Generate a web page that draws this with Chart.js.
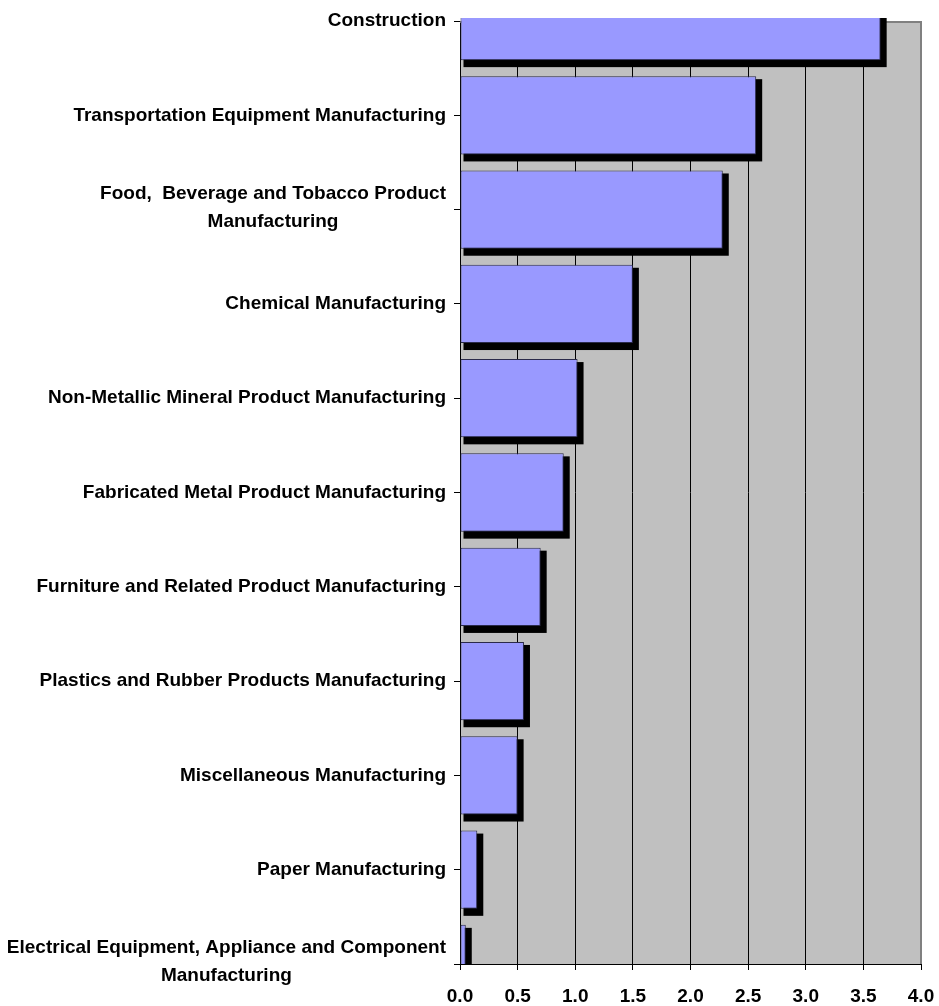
<!DOCTYPE html>
<html>
<head>
<meta charset="utf-8">
<script src="https://cdn.jsdelivr.net/npm/chart.js@4"></script>
<style>
  html, body { margin: 0; padding: 0; background: #fff; }
  #wrap { width: 939px; height: 1006px; position: relative; }
</style>
</head>
<body>
<div id="wrap"><canvas id="c"></canvas></div>
<script>
const categories = [
  ["Construction"],
  ["Transportation Equipment Manufacturing"],
  ["Food,  Beverage and Tobacco Product", "Manufacturing"],
  ["Chemical Manufacturing"],
  ["Non-Metallic Mineral Product Manufacturing"],
  ["Fabricated Metal Product Manufacturing"],
  ["Furniture and Related Product Manufacturing"],
  ["Plastics and Rubber Products Manufacturing"],
  ["Miscellaneous Manufacturing"],
  ["Paper Manufacturing"],
  ["Electrical Equipment, Appliance and Component", "Manufacturing"]
];
const values = [3.65, 2.57, 2.28, 1.50, 1.02, 0.90, 0.70, 0.555, 0.50, 0.15, 0.05];
const xTicks = [0.0, 0.5, 1.0, 1.5, 2.0, 2.5, 3.0, 3.5, 4.0];

const LABEL_FONT = 'bold 19px "Liberation Sans", Arial, sans-serif';

const plotDecor = {
  id: 'plotDecor',
  beforeDraw(chart) {
    const a = chart.chartArea, ctx = chart.ctx;
    ctx.save();
    ctx.fillStyle = '#C0C0C0';
    ctx.fillRect(a.left, a.top, a.right - a.left, a.bottom - a.top);
    ctx.restore();
  },
  beforeDatasetsDraw(chart) {
    const a = chart.chartArea, ctx = chart.ctx;
    ctx.save();
    ctx.strokeStyle = '#808080';
    ctx.lineWidth = 2;
    ctx.beginPath();
    ctx.moveTo(a.left, a.top + 1);
    ctx.lineTo(a.right, a.top + 1);
    ctx.lineTo(a.right, a.bottom);
    ctx.stroke();
    ctx.beginPath();
    ctx.rect(a.left, a.top - 3, a.right - a.left, a.bottom - a.top + 3);
    ctx.clip();
    ctx.fillStyle = '#000';
    const meta = chart.getDatasetMeta(0);
    meta.data.forEach(el => {
      const p = el.getProps(['x', 'y', 'base', 'height'], true);
      const top = p.y - p.height / 2;
      const l = Math.min(p.base, p.x), r = Math.max(p.base, p.x);
      ctx.fillRect(l + 3, top + 3, (r + 6) - (l + 3), p.height + 4);
    });
    ctx.restore();
  },
  afterDraw(chart) {
    const ys = chart.scales.y, ctx = chart.ctx;
    ctx.save();
    ctx.font = LABEL_FONT;
    ctx.fillStyle = '#000';
    ctx.textBaseline = 'middle';
    ctx.textAlign = 'center';
    const rightEdge = ys.right - 14;
    const lineH = 28;
    chart.data.labels.forEach((lines, i) => {
      const yc = ys.getPixelForTick(i) - (lines.length > 1 ? 2 : 0);
      const w = Math.max(...lines.map(t => ctx.measureText(t).width));
      const cx = rightEdge - w / 2;
      const y0 = yc - (lines.length - 1) * lineH / 2;
      lines.forEach((t, j) => ctx.fillText(t, cx, y0 + j * lineH));
    });
    ctx.restore();
  }
};

new Chart(document.getElementById('c'), {
  type: 'bar',
  data: {
    labels: categories,
    datasets: [{
      data: values,
      backgroundColor: '#9999FF',
      borderColor: '#2a2a4a',
      borderWidth: 1,
      borderSkipped: false,
      categoryPercentage: 1,
      barPercentage: 0.83,
      clip: { left: 0, top: 3, right: 0, bottom: 0 }
    }]
  },
  options: {
    indexAxis: 'y',
    responsive: true,
    maintainAspectRatio: false,
    animation: false,
    layout: { padding: { top: 21, right: 18, left: 0, bottom: 0 } },
    plugins: { legend: { display: false }, tooltip: { enabled: false } },
    scales: {
      y: {
        type: 'category',
        offset: false,
        afterFit(s) { s.width = 460; s.paddingTop = 0; s.paddingBottom = 0; },
        ticks: { display: false },
        grid: { drawOnChartArea: false, drawTicks: true, tickLength: 6, color: '#000', offset: false },
        border: { display: true, color: '#000', width: 1 }
      },
      x: {
        min: 0, max: 4,
        afterBuildTicks(s) { s.ticks = xTicks.map(v => ({ value: v })); },
        afterFit(s) { s.height = 42; s.paddingLeft = 0; s.paddingRight = 0; },
        ticks: {
          color: '#000',
          padding: 15,
          maxRotation: 0,
          font: { family: '"Liberation Sans", Arial, sans-serif', size: 19, weight: 'bold' },
          callback: v => Number(v).toFixed(1)
        },
        grid: { color: '#000', lineWidth: 1, tickLength: 6, drawTicks: true },
        border: { display: true, color: '#000', width: 1 }
      }
    }
  },
  plugins: [plotDecor]
});
</script>
</body>
</html>
